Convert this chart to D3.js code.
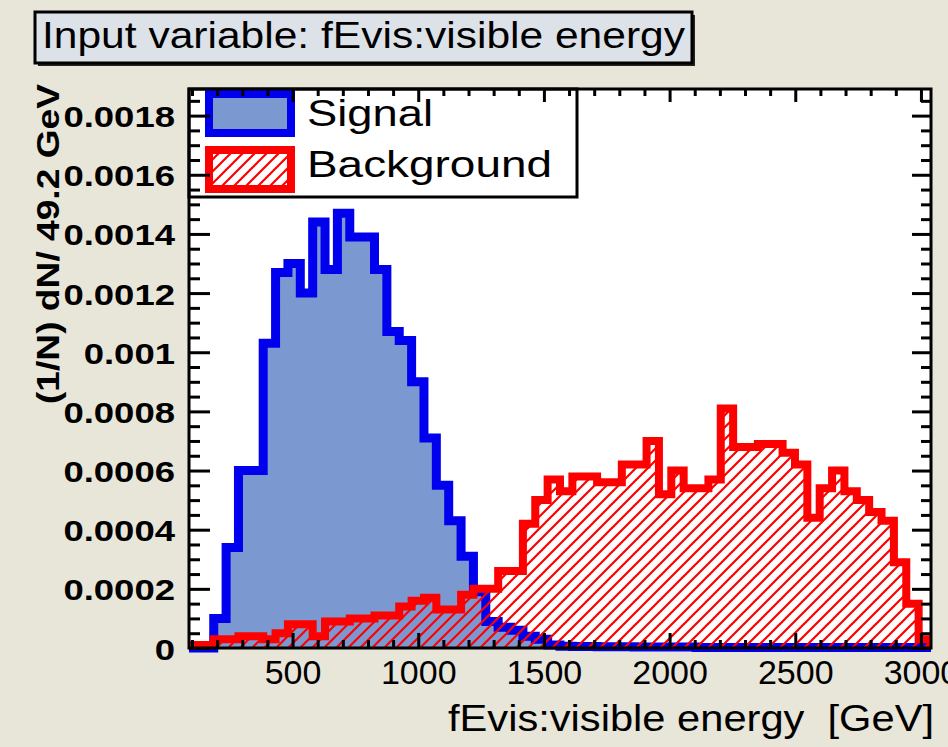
<!DOCTYPE html>
<html>
<head>
<meta charset="utf-8">
<script src="https://cdn.jsdelivr.net/npm/d3@7"></script>
<style>
  body { margin: 0; background: #e8e5d9; }
  svg { display: block; }
  text { font-family: "Liberation Sans", Arial, Helvetica, sans-serif; fill: #000; }
</style>
</head>
<body>
<div id="chart"></div>
<script>
// histogram binning : 60 bins of 49.2 GeV starting at 88 GeV
var binStart = 88, binWidth = 49.2;

// (1/N) dN per bin
var signal = [
  0, 0, 0.0001, 0.00034, 0.0006, 0.0006, 0.00103, 0.00127, 0.0013, 0.0012,
  0.00144, 0.00128, 0.00147, 0.00139, 0.00139, 0.00128, 0.00107, 0.00104, 0.0009, 0.00071,
  0.00055, 0.00043, 0.00031, 0.00019, 0.00009, 0.00007, 0.00006, 0.00004, 0.00003, 0.00001,
  0.000006, 0.000005, 0.000005, 0.000004, 0.000004, 0.000004, 0.000003, 0.000003, 0.000003, 0.000003,
  0.000003, 0.000002, 0.000002, 0.000002, 0.000002, 0.000002, 0.000002, 0.000002, 0.000002, 0.000002,
  0.000002, 0.000002, 0.000002, 0.000002, 0.000002, 0.000002, 0.000002, 0.000002, 0.000002, 0.000002
];
var background = [
  0.00001, 0.00001, 0.00003, 0.00003, 0.00004, 0.00004, 0.00003, 0.00005, 0.00008, 0.00008,
  0.00004, 0.00009, 0.00009, 0.0001, 0.0001, 0.00011, 0.00011, 0.00014, 0.00016, 0.00017,
  0.00013, 0.00013, 0.00018, 0.0002, 0.0002, 0.00026, 0.00026, 0.00042, 0.0005, 0.00057,
  0.00053, 0.00058, 0.00058, 0.00056, 0.00056, 0.00062, 0.00062, 0.0007, 0.00052, 0.0006,
  0.00054, 0.00054, 0.00057, 0.00081, 0.00068, 0.00068, 0.00069, 0.00069, 0.00066, 0.00062,
  0.00044, 0.00054, 0.0006, 0.00053, 0.0005, 0.00046, 0.00043, 0.00029, 0.00015, 0.00003
];

var xTicks = [500, 1000, 1500, 2000, 2500, 3000];
var xTickLabels = ["500", "1000", "1500", "2000", "2500", "3000"];
var yTicks = [0, 0.0002, 0.0004, 0.0006, 0.0008, 0.001, 0.0012, 0.0014, 0.0016, 0.0018];
var yTickLabels = ["0", "0.0002", "0.0004", "0.0006", "0.0008", "0.001", "0.0012", "0.0014", "0.0016", "0.0018"];

var legendNames = ["Signal", "Background"];
var titleText = "Input variable: fEvis:visible energy";
var xTitle = "fEvis:visible energy  [GeV]";
var yTitle = "(1/N) dN/ 49.2 GeV";

var width = 948, height = 747;
var frame = {left: 189, right: 931, top: 89, bottom: 648};
var nBins = signal.length;

var x = d3.scaleLinear().domain([binStart, binStart + nBins * binWidth]).range([frame.left, frame.right]);
var y = d3.scaleLinear().domain([0, 0.00189]).range([frame.bottom, frame.top]);

var svg = d3.select("#chart").append("svg")
    .attr("width", width)
    .attr("height", height);

var defs = svg.append("defs");

// red "///" hatching like ROOT fill style
defs.append("pattern")
    .attr("id", "hatch")
    .attr("patternUnits", "userSpaceOnUse")
    .attr("width", 12)
    .attr("height", 12)
  .append("path")
    .attr("d", "M0,12 L12,0 M-3,3 L3,-3 M9,15 L15,9")
    .attr("stroke", "#ff0000")
    .attr("stroke-width", 2.2);

defs.append("clipPath")
    .attr("id", "plotclip")
  .append("rect")
    .attr("x", frame.left)
    .attr("y", frame.top)
    .attr("width", frame.right - frame.left)
    .attr("height", frame.bottom - frame.top + 5);

// title box
svg.append("rect")
    .attr("x", 38).attr("y", 15)
    .attr("width", 657).attr("height", 51)
    .attr("fill", "#222");
svg.append("rect")
    .attr("x", 35).attr("y", 12)
    .attr("width", 657).attr("height", 51)
    .attr("fill", "#dce2e8")
    .attr("stroke", "#000")
    .attr("stroke-width", 3);
svg.append("text")
    .attr("x", 42).attr("y", 48)
    .attr("textLength", 643)
    .attr("lengthAdjust", "spacingAndGlyphs")
    .style("font-size", "37px")
    .text(titleText);

// plot frame
svg.append("rect")
    .attr("x", frame.left).attr("y", frame.top)
    .attr("width", frame.right - frame.left)
    .attr("height", frame.bottom - frame.top)
    .attr("fill", "#fff");

// step histogram helpers
function histPoints(values) {
  var pts = [[x(binStart), y(0)]];
  values.forEach(function(v, i) { pts.push([x(binStart + i * binWidth), y(v)]); });
  pts.push([x(binStart + nBins * binWidth), y(values[nBins - 1])]);
  pts.push([x(binStart + nBins * binWidth), y(0)]);
  return pts;
}
var stepLine = d3.line().curve(d3.curveStepAfter);

var plot = svg.append("g").attr("clip-path", "url(#plotclip)");

plot.append("path")
    .attr("d", stepLine(histPoints(signal)) + "Z")
    .attr("fill", "#7b99d0");
plot.append("path")
    .attr("d", stepLine(histPoints(signal)))
    .attr("fill", "none")
    .attr("stroke", "#0000ee")
    .attr("stroke-width", 9);

plot.append("path")
    .attr("d", stepLine(histPoints(background)) + "Z")
    .attr("fill", "url(#hatch)");
plot.append("path")
    .attr("d", stepLine(histPoints(background)))
    .attr("fill", "none")
    .attr("stroke", "#ff0000")
    .attr("stroke-width", 8);

// legend
var legend = svg.append("g");
legend.append("rect")
    .attr("x", frame.left).attr("y", frame.top)
    .attr("width", 577 - frame.left).attr("height", 197 - frame.top)
    .attr("fill", "#fff")
    .attr("stroke", "#000")
    .attr("stroke-width", 3);
legend.append("rect")
    .attr("x", 209).attr("y", 94)
    .attr("width", 82).attr("height", 39)
    .attr("fill", "#7b99d0")
    .attr("stroke", "#0000ee")
    .attr("stroke-width", 8);
legend.append("rect")
    .attr("x", 209).attr("y", 150)
    .attr("width", 82).attr("height", 39)
    .attr("fill", "url(#hatch)")
    .attr("stroke", "#ff0000")
    .attr("stroke-width", 8);
legend.selectAll(".legtext")
    .data(legendNames)
    .enter().append("text")
    .attr("class", "legtext")
    .attr("x", 307)
    .attr("y", function(d, i) { return 126 + i * 51; })
    .attr("textLength", function(d, i) { return i === 0 ? 126 : 245; })
    .attr("lengthAdjust", "spacingAndGlyphs")
    .style("font-size", "37px")
    .text(function(d) { return d; });

// axes, ROOT style ticks pointing inwards on all four sides
var xMinor = d3.range(100, 3040, 100).filter(function(v) { return v % 500 !== 0; });
var yMinor = d3.range(1, 38).map(function(i) { return i * 0.00005; }).filter(function(v, i) { return (i + 1) % 4 !== 0; });

function tickLayer(axis, tx, ty) {
  var g = svg.append("g")
      .attr("transform", "translate(" + tx + "," + ty + ")")
      .call(axis);
  g.select(".domain").remove();
  g.selectAll(".tick line").attr("stroke", "#000").attr("stroke-width", 3);
  return g;
}

tickLayer(d3.axisBottom(x).tickValues(xMinor).tickSize(-8).tickFormat(""), 0, frame.bottom);
tickLayer(d3.axisTop(x).tickValues(xMinor).tickSize(-7).tickFormat(""), 0, frame.top);
tickLayer(d3.axisTop(x).tickValues(xTicks).tickSize(-13).tickFormat(""), 0, frame.top);
tickLayer(d3.axisLeft(y).tickValues(yMinor).tickSize(-11).tickFormat(""), frame.left, 0);
tickLayer(d3.axisRight(y).tickValues(yMinor).tickSize(-10).tickFormat(""), frame.right, 0);
tickLayer(d3.axisRight(y).tickValues(yTicks).tickSize(-19).tickFormat(""), frame.right, 0);

var xAxisG = tickLayer(d3.axisBottom(x).tickValues(xTicks).tickSize(-15)
    .tickFormat(function(d, i) { return xTickLabels[i]; }), 0, frame.bottom);
xAxisG.selectAll(".tick text")
    .attr("y", 36)
    .attr("dy", 0)
    .style("font-size", "34px")
    .style("font-family", "Liberation Sans, Arial, sans-serif")
    .attr("fill", "#000");

var yAxisG = tickLayer(d3.axisLeft(y).tickValues(yTicks).tickSize(-21)
    .tickFormat(function(d, i) { return yTickLabels[i]; }), frame.left, 0);
yAxisG.selectAll(".tick text")
    .attr("x", 175 - frame.left)
    .attr("dy", 11)
    .style("font-size", "29px")
    .style("font-weight", "bold")
    .style("font-family", "Liberation Sans, Arial, sans-serif")
    .attr("fill", "#000")
    .attr("textLength", function(d, i) {
      var s = yTickLabels[i], em = 0;
      for (var k = 0; k < s.length; k++) em += (s[k] === "." ? 0.278 : 0.556);
      return em * 36.5;
    })
    .attr("lengthAdjust", "spacingAndGlyphs");

// frame border on top
svg.append("rect")
    .attr("x", frame.left).attr("y", frame.top)
    .attr("width", frame.right - frame.left)
    .attr("height", frame.bottom - frame.top)
    .attr("fill", "none")
    .attr("stroke", "#000")
    .attr("stroke-width", 3);

// axis titles
svg.append("text")
    .attr("x", 934).attr("y", 731)
    .attr("text-anchor", "end")
    .attr("textLength", 486)
    .attr("lengthAdjust", "spacingAndGlyphs")
    .style("font-size", "36px")
    .style("white-space", "pre")
    .text(xTitle);

svg.append("text")
    .attr("transform", "translate(59,84) rotate(-90)")
    .attr("text-anchor", "end")
    .attr("textLength", 320)
    .attr("lengthAdjust", "spacingAndGlyphs")
    .style("font-size", "31px")
    .style("font-weight", "bold")
    .text(yTitle);
</script>
</body>
</html>
